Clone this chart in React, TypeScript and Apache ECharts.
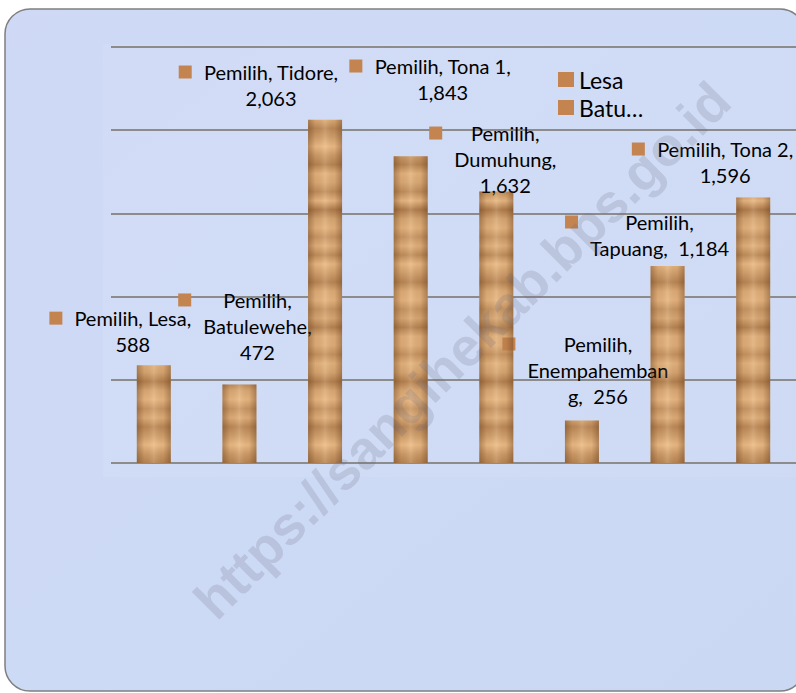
import React, { useEffect, useRef } from 'react';
import * as echarts from 'echarts';

const seriesName = 'Pemilih';
const categories = ['Lesa', 'Batulewehe', 'Tidore', 'Tona 1', 'Dumuhung', 'Enempahembang', 'Tapuang', 'Tona 2'];
const values = [588, 472, 2063, 1843, 1632, 256, 1184, 1596];
const yMin = 0;
const yMax = 2500;
const yInterval = 500;
const legendNames = ['Lesa', 'Batu…'];
// how each data label is wrapped in the reference
const labelWraps = ['inline', 'stack', 'inline', 'inline', 'stack', 'split', 'tail', 'inline'];
// label offsets from the default "top" position [dx, dy]
const labelOffsets = [
  [-33.5, -3],
  [5.5, -14.5],
  [-66.5, -3.7],
  [19.5, -46.3],
  [-3.5, 11.6],
  [3.5, -6.4],
  [-20.5, 0],
  [-40.5, -4.4],
];
const watermark = 'https://sangihekab.bps.go.id';

const fmt = (v: number) => v.toLocaleString('en-US');

function labelLines(i: number): string[] {
  const c = categories[i];
  const v = fmt(values[i]);
  switch (labelWraps[i]) {
    case 'stack':
      return [`${seriesName},`, `${c},`, v];
    case 'split':
      return [`${seriesName},`, c.slice(0, 12), `${c.slice(12)},  ${v}`];
    case 'tail':
      return [`${seriesName},`, `${c},  ${v}`];
    default:
      return [`${seriesName}, ${c},`, v];
  }
}

function richLabel(i: number): string {
  return labelLines(i)
    .map((l, k) => (k === 0 ? `{m|}{g|}{t|${l}}` : `{s|}{t|${l}}`))
    .join('\n');
}

// decorative wood grain shades (1 = light, 0 = dark)
const woodShades = [
  0.85, 0.55, 0.9, 0.75, 0.35, 0.8, 0.95, 0.6, 0.85, 0.45, 0.7, 1.0, 0.65, 0.4, 0.9, 0.8, 0.5, 0.95,
  0.3, 0.75, 0.9, 0.6, 0.88, 0.5, 0.97, 0.7, 0.42, 0.83, 0.92, 0.58, 0.78, 0.38, 0.86,
];

function woodColor(s: number) {
  const light = [236, 188, 134];
  const dark = [146, 94, 48];
  const c = light.map((l, k) => Math.round(dark[k] + (l - dark[k]) * s));
  return `rgb(${c[0]},${c[1]},${c[2]})`;
}

export default function App() {
  const ref = useRef<HTMLDivElement>(null);
  useEffect(() => {
    if (!ref.current) return;
    const chart = echarts.init(ref.current, undefined, { renderer: 'svg' });
    const gridTop = 47;
    const gridHeight = 416;
    const N = 46;
    const stops = [] as { offset: number; color: string }[];
    for (let i = 0; i <= N; i++) {
      stops.push({ offset: i / N, color: woodColor(woodShades[i % woodShades.length]) });
    }
    const wood = new echarts.graphic.LinearGradient(0, gridTop, 0, gridTop + gridHeight, stops, true);
    const shade = new echarts.graphic.LinearGradient(0, 0, 1, 0, [
      { offset: 0, color: 'rgba(90,50,20,0.4)' },
      { offset: 0.22, color: 'rgba(90,50,20,0.06)' },
      { offset: 0.5, color: 'rgba(255,235,210,0.15)' },
      { offset: 0.78, color: 'rgba(90,50,20,0.06)' },
      { offset: 1, color: 'rgba(90,50,20,0.4)' },
    ]);
    const font = 'Lato';
    const keyColor = '#c4844f';

    chart.setOption({
      animation: false,
      graphic: [
        {
          type: 'rect',
          z: -10,
          shape: { x: 5, y: 9, width: 800, height: 682, r: 25 },
          style: {
            fill: new echarts.graphic.LinearGradient(0, 0, 1, 1, [
              { offset: 0, color: '#cfd9f5' },
              { offset: 0.5, color: '#cddaf5' },
              { offset: 1, color: '#cbd8f4' },
            ]),
            stroke: '#7f7f7f',
            lineWidth: 1.5,
          },
        },
        {
          type: 'rect',
          z: -9,
          shape: { x: 103, y: 44, width: 700, height: 433 },
          style: { fill: 'rgba(255,255,255,0.07)' },
        },
        {
          type: 'text',
          z: 100,
          x: 462,
          y: 350,
          rotation: Math.PI / 4,
          silent: true,
          style: {
            text: watermark,
            fontSize: 54,
            fontWeight: 'bold',
            fontFamily: 'Liberation Sans',
            fill: 'rgba(105,105,125,0.2)',
            align: 'center',
            verticalAlign: 'middle',
          },
        },
      ],
      legend: {
        data: legendNames,
        orient: 'vertical',
        left: 558,
        top: 67,
        padding: 0,
        itemGap: 3,
        itemWidth: 16,
        itemHeight: 15,
        icon: 'rect',
        selectedMode: false,
        textStyle: { fontFamily: font, fontSize: 23, color: '#000', lineHeight: 25 },
      },
      grid: { left: 111, top: gridTop, width: 686, height: gridHeight },
      xAxis: {
        type: 'category',
        data: categories,
        axisLine: { show: false },
        axisTick: { show: false },
        axisLabel: { show: false },
      },
      yAxis: {
        type: 'value',
        min: yMin,
        max: yMax,
        interval: yInterval,
        axisLine: { show: false },
        axisTick: { show: false },
        axisLabel: { show: false },
        splitLine: { lineStyle: { color: '#8c8c8c', width: 2 } },
      },
      series: [
        {
          name: seriesName,
          type: 'bar',
          barWidth: 34,
          z: 3,
          itemStyle: { color: wood },
          data: values.map((v, i) => ({
            value: v,
            label: {
              show: true,
              position: 'top',
              distance: 5,
              offset: labelOffsets[i],
              formatter: richLabel(i),
              lineHeight: 26,
              rich: {
                m: { width: 13, height: 13, backgroundColor: keyColor, align: 'left', lineHeight: 26 },
                g: { width: 12, align: 'left', lineHeight: 26 },
                s: { width: 25, align: 'left', lineHeight: 26 },
                t: { fontFamily: font, fontSize: 20, color: '#000', align: 'center', lineHeight: 26 },
              },
            },
          })),
        },
        {
          name: 'shade',
          type: 'bar',
          barWidth: 34,
          barGap: '-100%',
          z: 4,
          silent: true,
          itemStyle: { color: shade },
          data: values,
        },
        { name: legendNames[0], type: 'line', data: [], itemStyle: { color: keyColor } },
        { name: legendNames[1], type: 'line', data: [], itemStyle: { color: keyColor } },
      ],
    });
    return () => chart.dispose();
  }, []);
  return <div ref={ref} style={{ position: 'absolute', left: 0, top: 0, width: 796, height: 693 }} />;
}
